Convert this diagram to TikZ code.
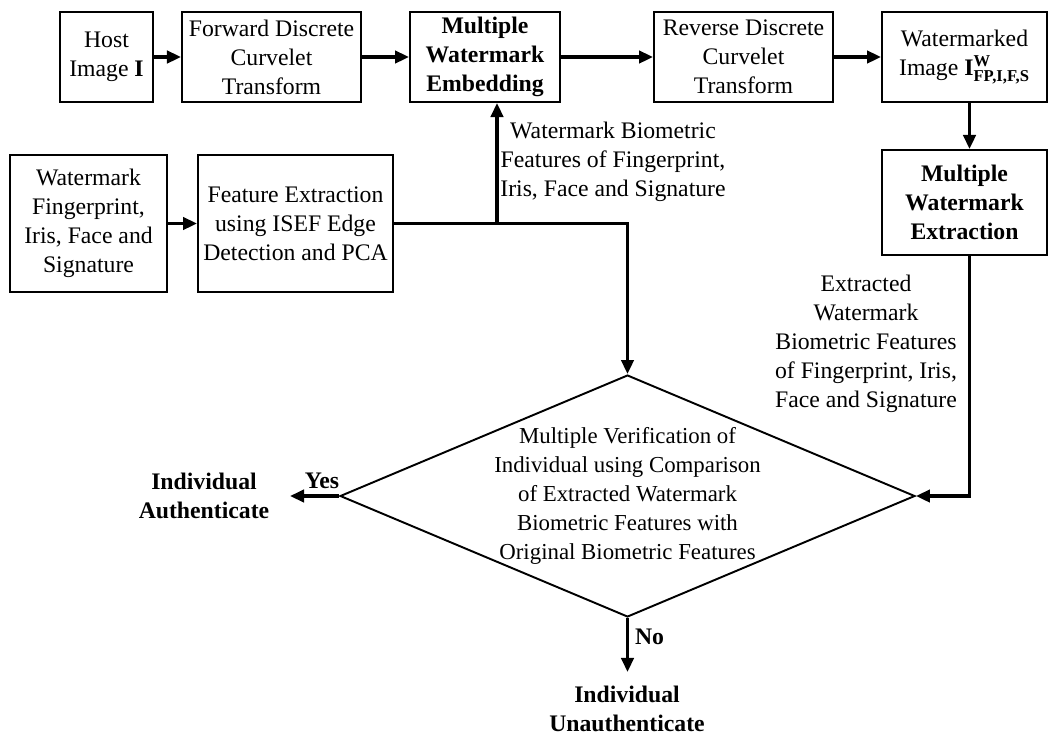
\documentclass[tikz,border=0pt]{standalone}
\usepackage{fontspec}
\setmainfont{Liberation Serif}
\usepackage{amsmath}
\usetikzlibrary{positioning, arrows.meta, shapes}
\tikzstyle{block} = [draw, rectangle, line width=1.1pt, align=center, inner sep=2pt,
   font=\fontsize{13.5}{16.5}\selectfont]
\tikzstyle{decision} = [draw, diamond, line width=1.1pt, align=center, inner ysep=0pt,
   inner xsep=-0.45cm, aspect=2.4, minimum width=11.5cm, minimum height=4.84cm,
   font=\fontsize{13}{16.5}\selectfont]
\tikzstyle{flow} = [line width=1.9pt, -{Triangle[length=8pt,width=7pt]}]
\tikzstyle{note} = [align=center, font=\fontsize{13.5}{16.5}\selectfont]
\tikzstyle{outcome} = [align=center, font=\fontsize{13.5}{16.5}\selectfont\bfseries]

\begin{document}
\begin{tikzpicture}[x=0.02cm, y=-0.02cm]
	  \useasboundingbox (0,0) rectangle (1053,738);
	  % top row
	  \node[block, minimum width=1.86cm, minimum height=1.8cm] (host) at (106.5,57) {Host\\Image \textbf{I}};
	  \node[block, minimum width=3.58cm, minimum height=1.8cm] (fdct) at (271.5,57) {Forward Discrete\\Curvelet\\Transform};
	  \node[block, minimum width=3.0cm, minimum height=1.8cm, font=\fontsize{13.5}{16.5}\selectfont\bfseries] (embed) at (485,57) {Multiple\\Watermark\\Embedding};
	  \node[block, minimum width=3.58cm, minimum height=1.8cm] (rdct) at (743.5,57) {Reverse Discrete\\Curvelet\\Transform};
	  \node[block, minimum width=3.3cm, minimum height=1.8cm] (wmkd) at (964.5,57) {Watermarked\\Image \textbf{I}$^{\text{\textbf{W}}}_{\text{\textbf{FP,I,F,S}}}$};
	  % second row
	  \node[block, minimum width=3.14cm, minimum height=2.74cm] (wmark) at (88.5,223.5) {Watermark\\Fingerprint,\\Iris, Face and\\Signature};
	  \node[block, minimum width=3.9cm, minimum height=2.74cm] (featx) at (295.5,223.5) {Feature Extraction\\using ISEF Edge\\Detection and PCA};
	  \node[block, minimum width=3.3cm, minimum height=2.1cm, font=\fontsize{13.5}{16.5}\selectfont\bfseries] (extr) at (964.5,202.5) {Multiple\\Watermark\\Extraction};
	  % verification
	  \node[decision] (diam) at (627.5,496) {Multiple Verification of\\Individual using Comparison\\of Extracted Watermark\\Biometric Features with\\Original Biometric Features};
	  \node[outcome] (auth) at (204,496) {Individual\\Authenticate};
	  \node[outcome] (unauth) at (627,709) {Individual\\Unauthenticate};
	  \coordinate (split) at (497,223.5);
	  \coordinate (yesend) at (290,496);
	  \coordinate (noend) at (627.5,672);
	  \node[note] (wmfeat) at (613,162) {Watermark Biometric\\Features of Fingerprint,\\Iris, Face and Signature};
	  \node[note] (exfeat) at (866,344) {Extracted\\Watermark\\Biometric Features\\of Fingerprint, Iris,\\Face and Signature};

	  % arrows
	  \draw[flow] (host) -- (fdct);
	  \draw[flow] (fdct) -- (embed);
	  \draw[flow] (embed) -- (rdct);
	  \draw[flow] (rdct) -- (wmkd);
	  \draw[flow] ([xshift=0.1cm]wmkd.south) -- ([xshift=0.1cm]extr.north);
	  \draw[flow] (wmark) -- (featx);
	  \draw[flow] (featx.east) -| (diam.north);
	  \draw[flow] (split) -- (split |- embed.south);
	  \draw[flow] ([xshift=0.1cm]extr.south) |- (diam.east);
	  \draw[flow] (diam.west) -- node[above, outcome, pos=0.35] {Yes} (yesend);
	  \draw[flow] (diam.south) -- node[right, outcome, pos=0.35] {No} (noend);
	\end{tikzpicture}
\end{document}
